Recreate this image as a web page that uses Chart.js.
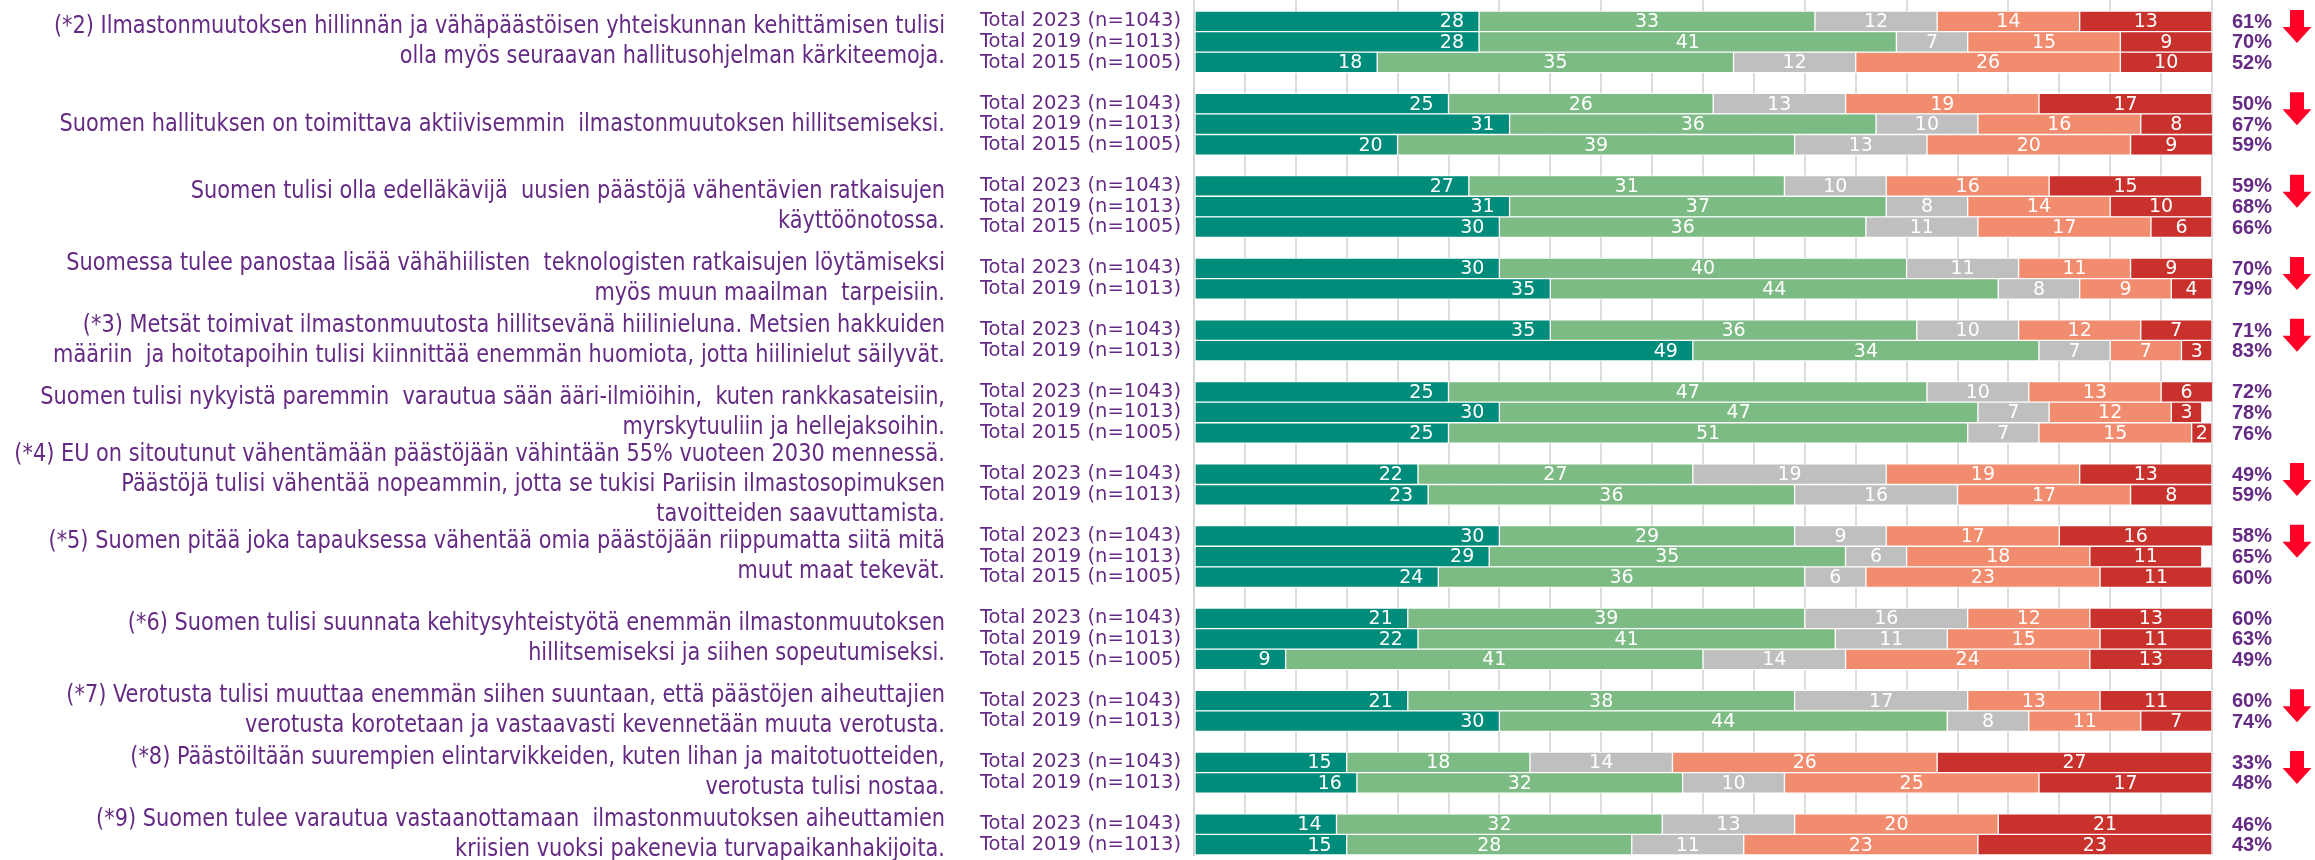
<!DOCTYPE html>
<html>
<head>
<meta charset="utf-8">
<script src="https://cdn.jsdelivr.net/npm/chart.js@4.4.1/dist/chart.umd.min.js"></script>
<style>
html, body { margin: 0; padding: 0; background: #fff; }
canvas { display: block; }
</style>
</head>
<body>
<canvas id="barCanvas" width="2315" height="860"></canvas>
<script>
// rivit: tyhjä merkkijono = väli kysymysten välissä
const rowLabels = [
  'Total 2023 (n=1043)', 'Total 2019 (n=1013)', 'Total 2015 (n=1005)', '',
  'Total 2023 (n=1043)', 'Total 2019 (n=1013)', 'Total 2015 (n=1005)', '',
  'Total 2023 (n=1043)', 'Total 2019 (n=1013)', 'Total 2015 (n=1005)', '',
  'Total 2023 (n=1043)', 'Total 2019 (n=1013)', '',
  'Total 2023 (n=1043)', 'Total 2019 (n=1013)', '',
  'Total 2023 (n=1043)', 'Total 2019 (n=1013)', 'Total 2015 (n=1005)', '',
  'Total 2023 (n=1043)', 'Total 2019 (n=1013)', '',
  'Total 2023 (n=1043)', 'Total 2019 (n=1013)', 'Total 2015 (n=1005)', '',
  'Total 2023 (n=1043)', 'Total 2019 (n=1013)', 'Total 2015 (n=1005)', '',
  'Total 2023 (n=1043)', 'Total 2019 (n=1013)', '',
  'Total 2023 (n=1043)', 'Total 2019 (n=1013)', '',
  'Total 2023 (n=1043)', 'Total 2019 (n=1013)'
]

const fullyAgree    = [28,28,18,null, 25,31,20,null, 27,31,30,null, 30,35,null, 35,49,null, 25,30,25,null, 22,23,null, 30,29,24,null, 21,22,9,null, 21,30,null, 15,16,null, 14,15]
const partlyAgree   = [33,41,35,null, 26,36,39,null, 31,37,36,null, 40,44,null, 36,34,null, 47,47,51,null, 27,36,null, 29,35,36,null, 39,41,41,null, 38,44,null, 18,32,null, 32,28]
const neutral       = [12,7,12,null, 13,10,13,null, 10,8,11,null, 11,8,null, 10,7,null, 10,7,7,null, 19,16,null, 9,6,6,null, 16,11,14,null, 17,8,null, 14,10,null, 13,11]
const partlyDisagree= [14,15,26,null, 19,16,20,null, 16,14,17,null, 11,9,null, 12,7,null, 13,12,15,null, 19,17,null, 17,18,23,null, 12,15,24,null, 13,11,null, 26,25,null, 20,23]
const fullyDisagree = [13,9,10,null, 17,8,9,null, 15,10,6,null, 9,4,null, 7,3,null, 6,3,2,null, 13,8,null, 16,11,11,null, 13,11,13,null, 11,7,null, 27,17,null, 21,23]
const agreeTotal    = [61,70,52,null, 50,67,59,null, 59,68,66,null, 70,79,null, 71,83,null, 72,78,76,null, 49,59,null, 58,65,60,null, 60,63,49,null, 60,74,null, 33,48,null, 46,43]

const questions = [
  ['(*2) Ilmastonmuutoksen hillinnän ja vähäpäästöisen yhteiskunnan kehittämisen tulisi', 'olla myös seuraavan hallitusohjelman kärkiteemoja.'],
  ['Suomen hallituksen on toimittava aktiivisemmin  ilmastonmuutoksen hillitsemiseksi.'],
  ['Suomen tulisi olla edelläkävijä  uusien päästöjä vähentävien ratkaisujen', 'käyttöönotossa.'],
  ['Suomessa tulee panostaa lisää vähähiilisten  teknologisten ratkaisujen löytämiseksi', 'myös muun maailman  tarpeisiin.'],
  ['(*3) Metsät toimivat ilmastonmuutosta hillitsevänä hiilinieluna. Metsien hakkuiden', 'määriin  ja hoitotapoihin tulisi kiinnittää enemmän huomiota, jotta hiilinielut säilyvät.'],
  ['Suomen tulisi nykyistä paremmin  varautua sään ääri-ilmiöihin,  kuten rankkasateisiin,', 'myrskytuuliin ja hellejaksoihin.'],
  ['(*4) EU on sitoutunut vähentämään päästöjään vähintään 55% vuoteen 2030 mennessä.', 'Päästöjä tulisi vähentää nopeammin, jotta se tukisi Pariisin ilmastosopimuksen', 'tavoitteiden saavuttamista.'],
  ['(*5) Suomen pitää joka tapauksessa vähentää omia päästöjään riippumatta siitä mitä', 'muut maat tekevät.'],
  ['(*6) Suomen tulisi suunnata kehitysyhteistyötä enemmän ilmastonmuutoksen', 'hillitsemiseksi ja siihen sopeutumiseksi.'],
  ['(*7) Verotusta tulisi muuttaa enemmän siihen suuntaan, että päästöjen aiheuttajien', 'verotusta korotetaan ja vastaavasti kevennetään muuta verotusta.'],
  ['(*8) Päästöiltään suurempien elintarvikkeiden, kuten lihan ja maitotuotteiden,', 'verotusta tulisi nostaa.'],
  ['(*9) Suomen tulee varautua vastaanottamaan  ilmastonmuutoksen aiheuttamien', 'kriisien vuoksi pakenevia turvapaikanhakijoita.']
]
// laskeva trendi -> punainen nuoli
const trendDown = [true, true, true, true, true, false, true, true, false, true, true, false]

const purple = '#652b84'

const annotate = {
  id: 'annotate',
  afterDatasetsDraw(chart) {
    const ctx = chart.ctx
    const y = chart.scales.y
    const area = chart.chartArea
    const slot = (area.bottom - area.top) / rowLabels.length
    ctx.save()

    // arvot palkkien sisään
    ctx.font = '19px "DejaVu Sans"'
    ctx.fillStyle = '#fff'
    ctx.textBaseline = 'middle'
    chart.data.datasets.forEach((ds, i) => {
      chart.getDatasetMeta(i).data.forEach((bar, j) => {
        const v = ds.data[j]
        if (v == null) return
        const end = Math.min(bar.x, area.right)
        if (i === 0) {
          ctx.textAlign = 'right'
          ctx.fillText(v, end - 15, bar.y + 1)
        } else {
          ctx.textAlign = 'center'
          ctx.fillText(v, (bar.base + end) / 2, bar.y + 1)
        }
      })
    })

    // samaa mieltä yhteensä
    ctx.font = 'bold 20px "Liberation Sans"'
    ctx.fillStyle = purple
    ctx.textAlign = 'left'
    agreeTotal.forEach((p, j) => {
      if (p == null) return
      ctx.fillText(p + '%', area.right + 20, y.getPixelForValue(j) + 1)
    })

    // ryhmät
    const groups = []
    let start = null
    rowLabels.forEach((l, j) => {
      if (l && start === null) start = j
      if ((!l || j === rowLabels.length - 1) && start !== null) {
        groups.push([start, l ? j : j - 1])
        start = null
      }
    })

    const squeeze = 0.835
    ctx.font = '25px "DejaVu Sans"'
    ctx.textAlign = 'right'
    groups.forEach((g, k) => {
      const top = y.getPixelForValue(g[0]) - slot / 2
      const mid = (y.getPixelForValue(g[0]) + y.getPixelForValue(g[1])) / 2
      const lines = questions[k]
      const lh = 30
      ctx.fillStyle = purple
      lines.forEach((t, n) => {
        ctx.save()
        ctx.translate(945, mid + (n - (lines.length - 1) / 2) * lh)
        ctx.scale(squeeze, 1)
        ctx.fillText(t, 0, 0)
        ctx.restore()
      })
      if (trendDown[k]) {
        const cx = area.right + 85
        const t0 = top - 1
        ctx.fillStyle = '#ff0026'
        ctx.beginPath()
        ctx.moveTo(cx - 7, t0)
        ctx.lineTo(cx + 7, t0)
        ctx.lineTo(cx + 7, t0 + 17)
        ctx.lineTo(cx + 14.5, t0 + 17)
        ctx.lineTo(cx, t0 + 33)
        ctx.lineTo(cx - 14.5, t0 + 17)
        ctx.lineTo(cx - 7, t0 + 17)
        ctx.closePath()
        ctx.fill()
      }
    })
    ctx.restore()
  }
}

const barCanvas = document.getElementById('barCanvas')
const seriesStyle = { borderColor: '#fff', borderWidth: 1, borderSkipped: false, categoryPercentage: 1, barPercentage: 1 }

const barChart = new Chart(barCanvas, {
  type: 'bar',
  data: {
    labels: rowLabels,
    datasets: [
      { label: 'Täysin samaa mieltä', data: fullyAgree, backgroundColor: '#008c7b', ...seriesStyle },
      { label: 'Jokseenkin samaa mieltä', data: partlyAgree, backgroundColor: '#7dbb84', ...seriesStyle },
      { label: 'Ei samaa eikä eri mieltä', data: neutral, backgroundColor: '#bfbfbf', ...seriesStyle },
      { label: 'Jokseenkin eri mieltä', data: partlyDisagree, backgroundColor: '#f28c6e', ...seriesStyle },
      { label: 'Täysin eri mieltä', data: fullyDisagree, backgroundColor: '#c8312c', ...seriesStyle }
    ]
  },
  options: {
    indexAxis: 'y',
    responsive: false,
    animation: false,
    layout: { padding: { top: 0, right: 103, bottom: 5, left: 0 } },
    scales: {
      x: {
        position: 'top',
        stacked: true,
        min: 0,
        max: 100,
        ticks: { display: false, stepSize: 5 },
        border: { display: false },
        grid: {
          color: '#dcdcdc',
          lineWidth: 2,
          drawTicks: true,
          tickLength: 11,
          tickColor: (c) => (c.tick && c.tick.value % 10 === 0) ? '#dcdcdc' : 'rgba(0,0,0,0)'
        }
      },
      y: {
        stacked: true,
        afterFit: (scale) => {
          scale.width = 1194
          scale.paddingTop = 0
          scale.paddingBottom = 0
        },
        grid: { display: false, drawTicks: false },
        border: { display: true, color: '#d4d4d4', width: 2 },
        ticks: {
          autoSkip: false,
          padding: 13,
          color: purple,
          font: { family: '"DejaVu Sans"', size: 19.5 }
        }
      }
    },
    plugins: {
      legend: { display: false },
      tooltip: { enabled: false }
    }
  },
  plugins: [annotate]
})
</script>
</body>
</html>
